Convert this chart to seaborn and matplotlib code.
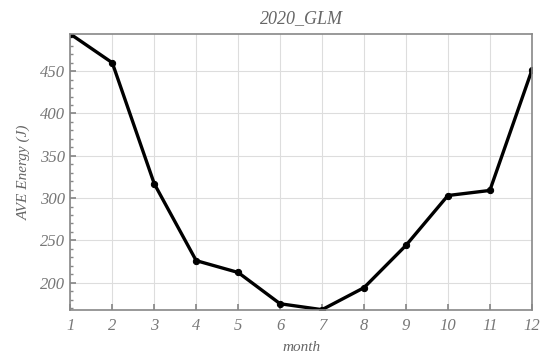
import matplotlib
matplotlib.use("Agg")
import matplotlib.pyplot as plt
from matplotlib.ticker import AutoMinorLocator
import seaborn as sns
import pandas as pd

months = [1, 2, 3, 4, 5, 6, 7, 8, 9, 10, 11, 12]
energy = [494, 460, 317, 226, 212, 175, 168, 194, 244, 303, 309, 451]

sns.set_theme(style="whitegrid")
plt.rcParams["font.family"] = ["Liberation Serif", "DejaVu Serif"]

df = pd.DataFrame({"month": months, "energy": energy})

fig, ax = plt.subplots(figsize=(5.41, 3.58), dpi=100)
fig.subplots_adjust(left=0.13, right=0.983, top=0.905, bottom=0.135)

sns.lineplot(data=df, x="month", y="energy", ax=ax, color="black",
             linewidth=2.4, marker="o", markersize=4.5, markeredgecolor="black")

ax.set_xlim(1, 12)
ax.set_ylim(min(energy), max(energy))
ax.set_xticks(months)
ax.set_yticks([200, 250, 300, 350, 400, 450])
ax.yaxis.set_minor_locator(AutoMinorLocator(5))

ax.grid(True, color="#dddddd", linewidth=0.8)
ax.grid(False, which="minor")
for s in ax.spines.values():
    s.set_color("#888888")
    s.set_linewidth(1.2)

ax.tick_params(axis="x", which="major", direction="in", length=4,
               color="#888888", labelsize=12, labelcolor="#777777", pad=6)
ax.tick_params(axis="y", which="major", direction="in", length=4,
               color="#888888", labelsize=12, labelcolor="#777777", pad=4)
ax.tick_params(axis="y", which="minor", direction="in", length=2,
               color="#888888", left=True)
ax.tick_params(axis="y", left=True)
ax.tick_params(axis="x", bottom=True)
for lab in ax.get_xticklabels() + ax.get_yticklabels():
    lab.set_fontstyle("italic")

ax.set_xlabel("month", fontsize=11, fontstyle="italic", color="#666666", labelpad=5)
ax.set_ylabel("AVE Energy (J)", fontsize=11, fontstyle="italic", color="#666666", labelpad=6)
ax.set_title("2020_GLM", fontsize=13, fontstyle="italic", color="#666666", pad=8)

fig.savefig("out.png", dpi=100)
